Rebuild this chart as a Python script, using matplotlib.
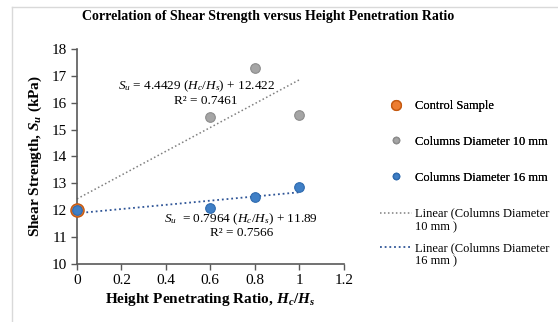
import matplotlib.pyplot as plt
import numpy as np
from matplotlib.lines import Line2D
from matplotlib.legend_handler import HandlerLine2D

plt.rcParams['font.family'] = ['Liberation Serif', 'DejaVu Serif']
plt.rcParams['mathtext.fontset'] = 'custom'
plt.rcParams['mathtext.rm'] = 'Liberation Serif'
plt.rcParams['mathtext.it'] = 'Liberation Serif:italic'
plt.rcParams['mathtext.bf'] = 'Liberation Serif:bold'
plt.rcParams['mathtext.bfit'] = 'Liberation Serif:bold:italic'

# data
control_x = [0]
control_y = [12.0]
d10_x = [0, 0.6, 0.8, 1.0]
d10_y = [12.0, 15.47, 17.3, 15.55]
d16_x = [0, 0.6, 0.8, 1.0]
d16_y = [12.0, 12.1, 12.48, 12.85]

eq10 = r'$S_u$ = 4.4429 ($H_c$/$H_s$) + 12.422'
r2_10 = 'R² = 0.7461'
eq16 = r'$S_u$  = 0.7964 ($H_c$/$H_s$) + 11.89'
r2_16 = 'R² = 0.7566'

x_ticks = [0, 0.2, 0.4, 0.6, 0.8, 1, 1.2]
x_labels = ['0', '0.2', '0.4', '0.6', '0.8', '1', '1.2']
y_ticks = list(range(10, 19))

orange = '#ED7D31'
gray = '#A5A5A5'
blue = '#3F7FC6'


class TopLine(HandlerLine2D):
    # put the trendline sample level with the first text line, like Excel does
    def create_artists(self, legend, orig_handle, xdescent, ydescent, width, height,
                       fontsize, trans):
        arts = super().create_artists(legend, orig_handle, xdescent, ydescent, width,
                                      height, fontsize, trans)
        for a in arts:
            a.set_ydata(np.asarray(a.get_ydata()) + 5.5)
        return arts


fig = plt.figure(figsize=(5.58, 3.22), dpi=100)
ax = fig.add_axes([0.138, 0.180, 0.478, 0.668])

# linear trendlines (least squares like Excel)
p10 = np.polyfit(d10_x, d10_y, 1)
p16 = np.polyfit(d16_x, d16_y, 1)
xt = np.array([0, 1.0])
ax.plot(xt, np.polyval(p10, xt), ls=(0, (1, 1.6)), color='#7F7F7F', lw=1.1, clip_on=False)
ax.plot(xt, np.polyval(p16, xt), ls=(0, (1, 1.6)), color='#2F5597', lw=1.3, clip_on=False)

ax.scatter(control_x, control_y, s=90, color=orange, edgecolor='#C55A11', lw=1, zorder=4, clip_on=False)
ax.scatter(d10_x[1:], d10_y[1:], s=48, color=gray, edgecolor='#8C8C8C', lw=0.8, zorder=5)
ax.scatter(d16_x, d16_y, s=48, color=blue, edgecolor='#2E6AAE', lw=0.8, zorder=5, clip_on=False)

ax.text(0.54, 16.62, eq10, ha='center', va='center', fontsize=9.5)
ax.text(0.58, 16.05, r2_10, ha='center', va='center', fontsize=9.5)
ax.text(0.74, 11.68, eq16, ha='center', va='center', fontsize=9.5)
ax.text(0.74, 11.17, r2_16, ha='center', va='center', fontsize=9.5)

ax.set_xlim(0, 1.2)
ax.set_ylim(10, 18)
ax.set_xticks(x_ticks)
ax.set_xticklabels(x_labels)
ax.set_yticks(y_ticks)
for s in ['top', 'right']:
    ax.spines[s].set_visible(False)
for s in ['left', 'bottom']:
    ax.spines[s].set_color('#595959')
    ax.spines[s].set_linewidth(1.2)
ax.tick_params(axis='both', direction='out', length=4, width=1, color='#595959',
               labelsize=11, pad=3)

ax.set_xlabel(r'Height Penetrating Ratio, $\mathbfit{H_c}$/$\mathbfit{H_s}$',
              fontsize=11, fontweight='bold', labelpad=3)
ax.set_ylabel(r'Shear Strength, $\mathbfit{S_u}$ (kPa)', fontsize=11, fontweight='bold', labelpad=6)

fig.text(0.48, 0.948, 'Correlation of Shear Strength versus Height Penetration Ratio',
         ha='center', va='center', fontsize=10, fontweight='bold')

marker_handles = [
    Line2D([], [], ls='none', marker='o', ms=7, color=orange, mec='#C55A11'),
    Line2D([], [], ls='none', marker='o', ms=4.5, color=gray, mec='#8C8C8C'),
    Line2D([], [], ls='none', marker='o', ms=4.5, color=blue, mec='#2E6AAE'),
]
marker_labels = ['Control Sample', 'Columns Diameter 10 mm', 'Columns Diameter 16 mm']
line_handles = [
    Line2D([], [], ls=(0, (1, 1.6)), color='#7F7F7F', lw=1.1),
    Line2D([], [], ls=(0, (1, 1.6)), color='#2F5597', lw=1.3),
]
line_labels = ['Linear (Columns Diameter\n10 mm )', 'Linear (Columns Diameter\n16 mm )']

leg1 = fig.legend(marker_handles, marker_labels, loc='upper left', bbox_to_anchor=(0.66, 0.724),
                  frameon=False, fontsize=9, handlelength=2.6, handletextpad=0.2,
                  labelspacing=1.9)
fig.add_artist(leg1)
fig.legend(line_handles, line_labels, loc='upper left', bbox_to_anchor=(0.66, 0.39),
           frameon=False, fontsize=9, handlelength=2.6, handletextpad=0.2,
           labelspacing=0.68, handler_map={Line2D: TopLine()})

# light frame around the chart area
fig.add_artist(Line2D([12 / 558, 1], [1 - 7 / 322, 1 - 7 / 322], color='#D9D9D9', lw=1))
fig.add_artist(Line2D([12 / 558, 12 / 558], [0, 1 - 7 / 322], color='#D9D9D9', lw=1))

fig.savefig('out.png', dpi=100)
